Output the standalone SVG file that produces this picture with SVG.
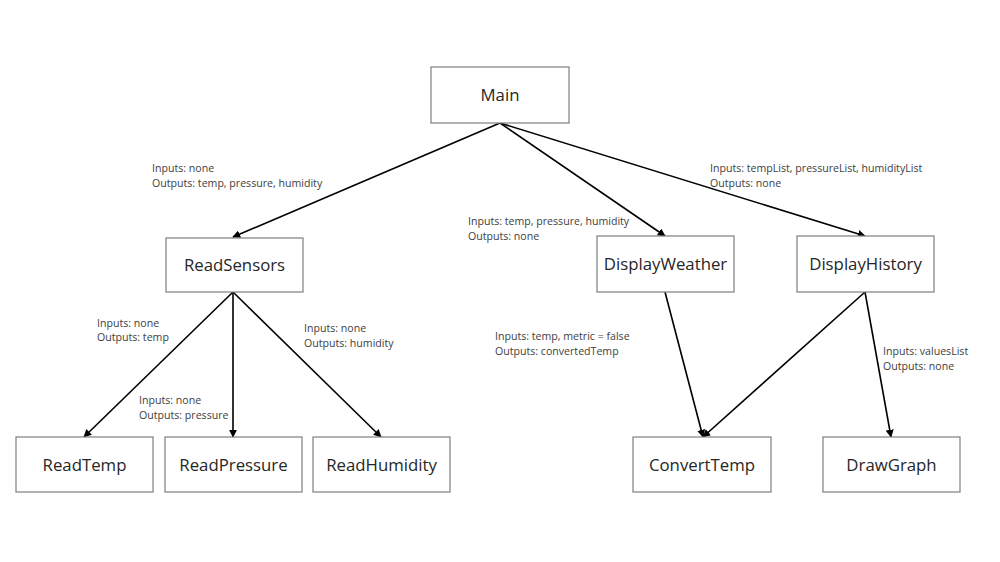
<svg xmlns="http://www.w3.org/2000/svg" width="1000" height="562" viewBox="0 0 1000 562">
<style>
.box{fill:#fff;stroke:#7f7f7f;stroke-width:1.2}
.nl{font-family:"Open Sans","Liberation Sans",sans-serif;font-size:16.8px;fill:#262626;text-anchor:middle}
.lb{font-family:"Open Sans","Liberation Sans",sans-serif;font-size:10.6px;fill:#404040}
.cn{stroke:#000;stroke-width:1.6;fill:none;marker-end:url(#ah)}
</style>
<defs>
<marker id="ah" viewBox="0 0 10 10" refX="9" refY="5" markerWidth="5" markerHeight="5" orient="auto" markerUnits="strokeWidth">
<path d="M0,0 L10,5 L0,10 z" fill="#000"/>
</marker>
</defs>
<rect width="1000" height="562" fill="#fff"/>
<g id="connectors">
<line class="cn" x1="500" y1="123" x2="233" y2="237"/>
<line class="cn" x1="500" y1="123" x2="665" y2="236"/>
<line class="cn" x1="500" y1="123" x2="865" y2="236"/>
<line class="cn" x1="233" y1="292" x2="84" y2="437"/>
<line class="cn" x1="233" y1="292" x2="233" y2="437"/>
<line class="cn" x1="233" y1="292" x2="381" y2="437"/>
<line class="cn" x1="665" y1="292" x2="703" y2="437"/>
<line class="cn" x1="865" y1="292" x2="703" y2="437"/>
<line class="cn" x1="865" y1="292" x2="891" y2="437"/>
</g>
<g id="labels">
<text class="lb" x="152" y="172">Inputs: none</text>
<text class="lb" x="152" y="187">Outputs: temp, pressure, humidity</text>
<text class="lb" x="468" y="225">Inputs: temp, pressure, humidity</text>
<text class="lb" x="468" y="240">Outputs: none</text>
<text class="lb" x="710" y="172">Inputs: tempList, pressureList, humidityList</text>
<text class="lb" x="710" y="187">Outputs: none</text>
<text class="lb" x="97" y="327">Inputs: none</text>
<text class="lb" x="97" y="341">Outputs: temp</text>
<text class="lb" x="304" y="332">Inputs: none</text>
<text class="lb" x="304" y="347">Outputs: humidity</text>
<text class="lb" x="139" y="404">Inputs: none</text>
<text class="lb" x="139" y="419">Outputs: pressure</text>
<text class="lb" x="495" y="340">Inputs: temp, metric = false</text>
<text class="lb" x="495" y="355">Outputs: convertedTemp</text>
<text class="lb" x="883" y="355">Inputs: valuesList</text>
<text class="lb" x="883" y="370">Outputs: none</text>
</g>
<g id="Main"><rect class="box" x="431" y="67" width="138" height="56"/><text class="nl" x="500" y="101">Main</text></g>
<g id="ReadSensors"><rect class="box" x="166" y="238" width="137" height="54"/><text class="nl" x="234.5" y="271">ReadSensors</text></g>
<g id="DisplayWeather"><rect class="box" x="597" y="236" width="137" height="56"/><text class="nl" x="665.5" y="270">DisplayWeather</text></g>
<g id="DisplayHistory"><rect class="box" x="797" y="236" width="137" height="56"/><text class="nl" x="865.5" y="270">DisplayHistory</text></g>
<g id="ReadTemp"><rect class="box" x="16" y="437" width="137" height="55"/><text class="nl" x="84.5" y="471">ReadTemp</text></g>
<g id="ReadPressure"><rect class="box" x="165" y="437" width="137" height="55"/><text class="nl" x="233.5" y="471">ReadPressure</text></g>
<g id="ReadHumidity"><rect class="box" x="313" y="437" width="137" height="55"/><text class="nl" x="381.5" y="471">ReadHumidity</text></g>
<g id="ConvertTemp"><rect class="box" x="633" y="437" width="138" height="55"/><text class="nl" x="702" y="471">ConvertTemp</text></g>
<g id="DrawGraph"><rect class="box" x="823" y="437" width="137" height="55"/><text class="nl" x="891.5" y="471">DrawGraph</text></g>
</svg>
